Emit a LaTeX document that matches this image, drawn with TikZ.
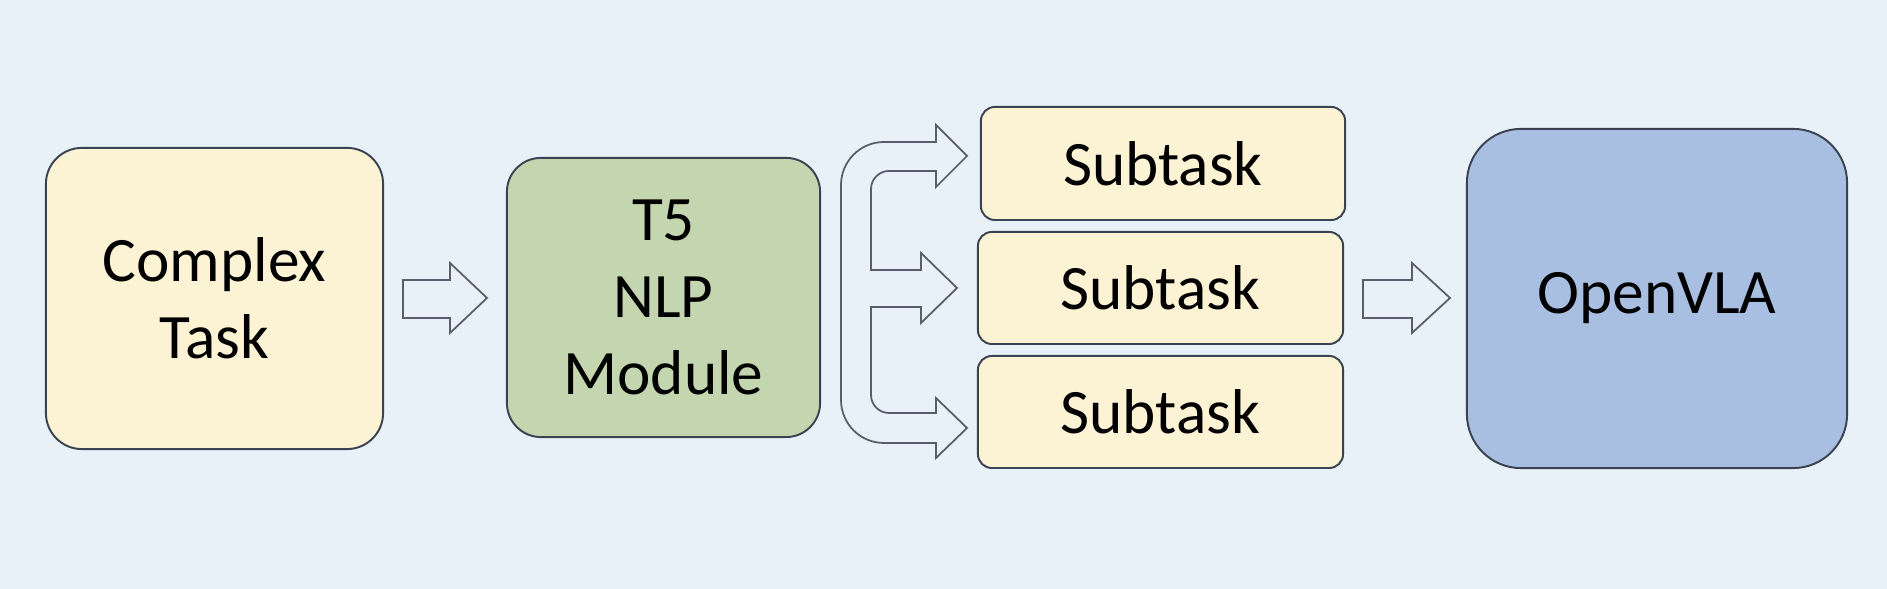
\documentclass[tikz,border=0pt]{standalone}
\usepackage{fontspec}
\setmainfont{Carlito}
\usepackage{xcolor}

\definecolor{bgblue}{HTML}{E8F0F8}
\definecolor{cream}{HTML}{FCF3D5}
\definecolor{sage}{HTML}{C4D6B0}
\definecolor{steel}{HTML}{A9BFE1}
\definecolor{edge}{HTML}{3B4252}

\tikzset{
  box/.style={draw=edge, line width=0.55pt, align=center, inner sep=0pt,
    font=\fontsize{18}{21.8}\selectfont},
  hollow/.style={draw=edge!85, line width=0.5pt, fill=bgblue, line join=miter}
}

\begin{document}
\begin{tikzpicture}[x=0.01cm, y=-0.01cm]
				\fill[bgblue] (0,0) rectangle (1887,589);
				\useasboundingbox (0,0) rectangle (1887,589);
				% boxes
				\node[box, fill=cream, rounded corners=0.36cm, minimum width=3.37cm, minimum height=3.01cm] (task) at (214.5,298.5) {Complex\\Task};
				\node[box, fill=sage, rounded corners=0.34cm, minimum width=3.13cm, minimum height=2.79cm] (t5) at (663.5,297.5) {T5\\NLP\\Module};
				\node[box, fill=cream, rounded corners=0.14cm, minimum width=3.64cm, minimum height=1.13cm] (sub1) at (1163,163.5) {Subtask};
				\node[box, fill=cream, rounded corners=0.14cm, minimum width=3.65cm, minimum height=1.12cm] (sub2) at (1160.5,288) {Subtask};
				\node[box, fill=cream, rounded corners=0.14cm, minimum width=3.65cm, minimum height=1.12cm] (sub3) at (1160.5,412) {Subtask};
				\node[box, fill=steel, rounded corners=0.54cm, minimum width=3.80cm, minimum height=3.39cm] (vla) at (1657,298.5) {OpenVLA};
				% block arrows
				\draw[hollow] (403,280) -- (450,280) -- (450,263) -- (487,298) -- (450,333) -- (450,318) -- (403,318) -- cycle;
				\draw[hollow] (1363,280) -- (1412,280) -- (1412,263) -- (1450,298) -- (1412,333) -- (1412,318) -- (1363,318) -- cycle;
				% fork into the subtasks
				\draw[hollow] (936,142) -- (884,142) arc[start angle=270, end angle=180, radius=43]
					-- (841,400) arc[start angle=180, end angle=90, radius=43]
					-- (936,443) -- (936,458) -- (967,428) -- (936,398) -- (936,413)
					-- (889,413) arc[start angle=90, end angle=180, radius=18]
					-- (871,307) -- (921,307) -- (921,323) -- (957,288) -- (921,253) -- (921,270)
					-- (871,270) -- (871,189) arc[start angle=180, end angle=270, radius=18]
					-- (936,171) -- (936,187) -- (967,156) -- (936,125) -- cycle;
			\end{tikzpicture}
\end{document}
